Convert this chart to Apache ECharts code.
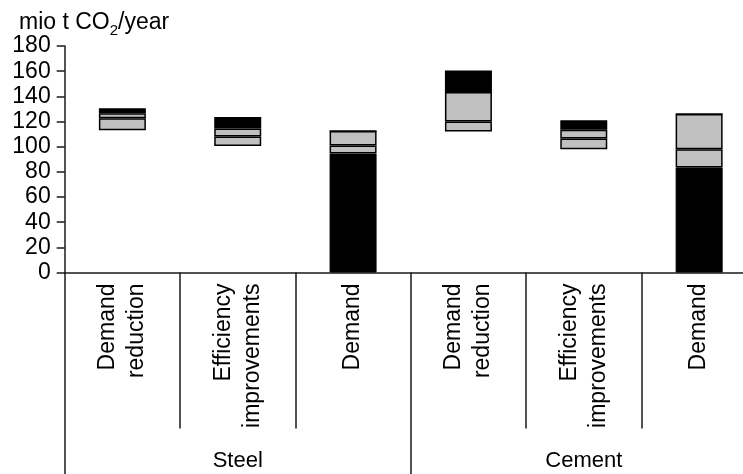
<!DOCTYPE html>
<html>
<head>
<meta charset="utf-8">
<script src="https://cdn.jsdelivr.net/npm/echarts@6/dist/echarts.min.js"></script>
<style>
  html, body { margin: 0; padding: 0; background: #fff; }
  #chart { width: 743px; height: 474px; }
</style>
</head>
<body>
<div id="chart"></div>
<script>
// categories
const groups = ['Steel', 'Cement'];
const measures = ['Demand\nreduction', 'Efficiency\nimprovements', 'Demand',
                  'Demand\nreduction', 'Efficiency\nimprovements', 'Demand'];
const isDemand = [false, false, true, false, false, true];
// levels of each bar (mio t CO2/year)
const bottoms  = [113, 100.5, 94.5, 112, 98, 83.5];
const midLines = [122.5, 108, 101, 120, 106.5, 98];
const grayTops = [126.5, 114.5, 112.5, 143.5, 113.5, 126];
const tops     = [130.5, 123.5, 112.5, 160.5, 121, 126];

const FONT = '"Liberation Sans", Arial, sans-serif';
const LINE = '#1a1a1a';
const GRAY = '#c0c0c0';

const chart = echarts.init(document.getElementById('chart'));

// stacked pieces: base, lower grey, upper grey, black top
const base = bottoms.map((v, i) => ({
   value: v,
   itemStyle: isDemand[i]
      ? { color: '#000', borderColor: '#000', borderWidth: 1 }
      : { color: 'rgba(0,0,0,0)', borderWidth: 0 }
}));
const grayLow = midLines.map((v, i) => v - bottoms[i]);
const grayHigh = grayTops.map((v, i) => v - midLines[i]);
const blackTop = tops.map((v, i) => tops[i] - grayTops[i]);

const segStyle = (color) => ({ color: color, borderColor: '#000', borderWidth: 1.5 });

const option = {
   animation: false,
   backgroundColor: '#fff',
   title: {
      text: '{a|mio t CO}{s|2}{a|/year}',
      left: 14,
      top: 2,
      textStyle: {
         fontWeight: 'normal',
         rich: {
            a: { fontFamily: FONT, fontSize: 23, fontWeight: 'normal', color: '#000', lineHeight: 31 },
            s: { fontFamily: FONT, fontSize: 15, fontWeight: 'normal', color: '#000', lineHeight: 15, verticalAlign: 'bottom' }
         }
      }
   },
   // the plot runs a little past the right edge of the window, as in the original
   grid: { left: 64.7, top: 46, bottom: 201.5, right: -13.8, outerBoundsMode: 'none', containLabel: false },
   xAxis: [
      {
         type: 'category',
         data: measures,
         position: 'bottom',
         axisLine: { lineStyle: { color: LINE, width: 1.5 } },
         axisTick: { show: true, interval: 0, alignWithLabel: false, length: 156, lineStyle: { color: LINE, width: 1.5 } },
         axisLabel: {
            rotate: 90,
            interval: 0,
            margin: 11,
            fontFamily: FONT,
            fontSize: 23,
            lineHeight: 29,
            color: '#000'
         }
      },
      {
         type: 'category',
         data: groups,
         position: 'bottom',
         axisLine: { show: false },
         axisTick: { show: true, interval: 0, alignWithLabel: false, length: 205, lineStyle: { color: LINE, width: 1.5 } },
         axisLabel: {
            interval: 0,
            margin: 177,
            fontFamily: FONT,
            fontSize: 22,
            color: '#000'
         }
      }
   ],
   yAxis: {
      type: 'value',
      min: 0,
      max: 180,
      interval: 20,
      axisLine: { show: true, lineStyle: { color: LINE, width: 1.5 } },
      axisTick: { show: true, length: 8, lineStyle: { color: LINE, width: 1.5 } },
      splitLine: { show: false },
      axisLabel: { margin: 14, fontFamily: FONT, fontSize: 23, color: '#000' }
   },
   series: [
      { type: 'bar', stack: 'a', barWidth: 47, data: base },
      { type: 'bar', stack: 'a', barWidth: 47, data: grayLow, itemStyle: segStyle(GRAY) },
      { type: 'bar', stack: 'a', barWidth: 47, data: grayHigh, itemStyle: segStyle(GRAY) },
      { type: 'bar', stack: 'a', barWidth: 47, data: blackTop, itemStyle: segStyle('#000') }
   ]
};
chart.setOption(option);
</script>
</body>
</html>
